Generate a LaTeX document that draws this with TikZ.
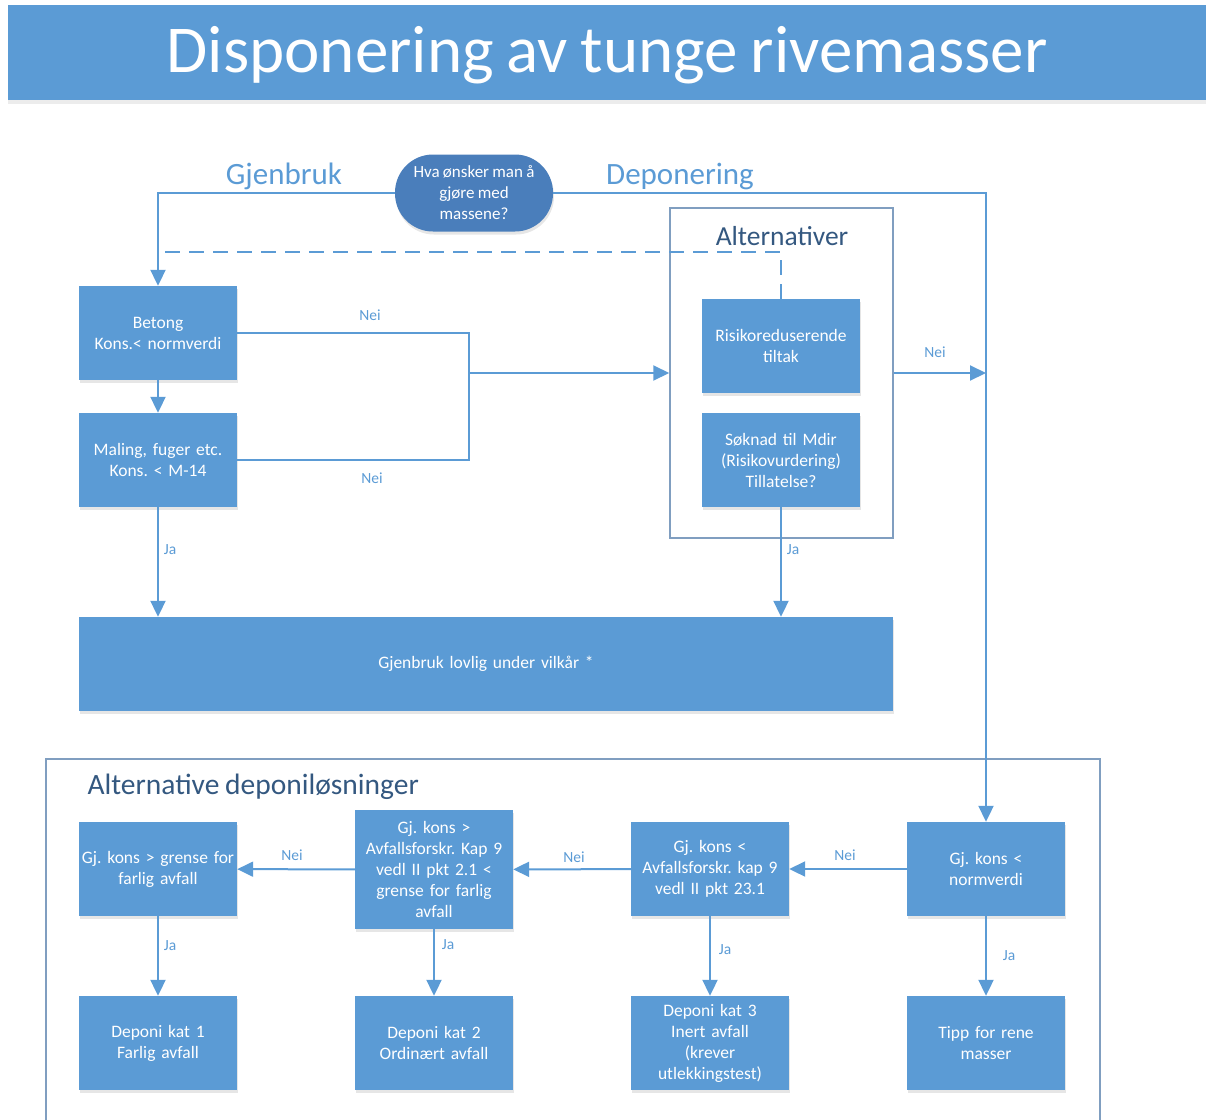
\documentclass[tikz,border=0pt]{standalone}
\usepackage{fontspec}
\setmainfont{Carlito}[WordSpace=0.85]
\frenchspacing
\usetikzlibrary{arrows.meta,shadows}
\definecolor{bl}{RGB}{91,155,213}
\definecolor{dbl}{RGB}{74,126,187}
\definecolor{frm}{RGB}{128,158,192}
\definecolor{ttl}{RGB}{52,88,128}
\begin{document}
\begin{tikzpicture}[x=1pt,y=-1pt,>={Triangle[length=16pt,width=15pt]},
	box/.style={fill=bl,text=white,minimum width=158pt,minimum height=94pt,text width=154pt,align=center,inner sep=0pt,font=\fontsize{17.5}{21}\selectfont,drop shadow={shadow xshift=1pt,shadow yshift=-3pt,opacity=0.2}},
	lbl/.style={text=bl,font=\fontsize{15.5}{18}\selectfont},
	hd/.style={font=\fontsize{31}{34}\selectfont},
	ln/.style={draw=bl,line width=2pt}]
		\useasboundingbox (0,0) rectangle (1206,1119);
		\fill[bl,drop shadow={shadow xshift=0pt,shadow yshift=-4pt,opacity=0.15}] (8,5) rectangle (1206,100);
		\node[text=white,font=\fontsize{67}{72}\selectfont] (title) at (607,55) {Disponering av tunge rivemasser};
		\node[draw=frm,line width=1.5pt,fill=white,minimum width=223pt,minimum height=330pt,inner sep=0pt] (alt) at (781.5,373) {};
		\node[text=ttl,font=\fontsize{27.5}{30}\selectfont] (altt) at (782,236) {Alternativer};
		\draw[frm,line width=1.5pt] (46,1125) -- (46,759) -- (1100,759) -- (1100,1125);
		\node[text=ttl,anchor=west,font=\fontsize{29.5}{32}\selectfont] (dept) at (84,787) {Alternative deponiløsninger};
		\node[fill=dbl,text=white,rounded corners=38pt,minimum width=158pt,minimum height=77pt,align=center,inner sep=0pt,font=\fontsize{17}{21}\selectfont,drop shadow={shadow xshift=1pt,shadow yshift=-3pt,opacity=0.2}] (q) at (474,193) {Hva ønsker man å\\gjøre med\\massene?};
		\node[hd,text=bl] (gj) at (284,176) {Gjenbruk};
		\node[hd,text=bl] (dep) at (680,176) {Deponering};
		\node[box] (bet) at (158,333) {Betong\\Kons.< normverdi};
		\node[box] (mal) at (158,460) {Maling, fuger etc.\\Kons. < M-14};
		\node[box] (risk) at (781,346) {Risikoreduserende\\tiltak};
		\node[box] (sok) at (781,460) {Søknad til Mdir\\(Risikovurdering)\\Tillatelse?};
		\node[box,minimum width=814pt,text width=800pt] (gjl) at (486,664) {Gjenbruk lovlig under vilkår *};
		\node[box] (a1) at (158,869) {Gj. kons > grense for\\farlig avfall};
		\node[box,minimum height=119pt] (a2) at (434,869.5) {Gj. kons >\\Avfallsforskr. Kap 9\\vedl II pkt 2.1 <\\grense for farlig\\avfall};
		\node[box] (a3) at (710,869) {Gj. kons <\\Avfallsforskr. kap 9\\vedl II pkt 23.1};
		\node[box] (a4) at (986,869) {Gj. kons <\\normverdi};
		\node[box] (b1) at (158,1043) {Deponi kat 1\\Farlig avfall};
		\node[box] (b2) at (434,1043) {Deponi kat 2\\Ordinært avfall};
		\node[box] (b3) at (710,1043) {Deponi kat 3\\Inert avfall\\(krever\\utlekkingstest)};
		\node[box] (b4) at (986,1043) {Tipp for rene\\masser};
		\coordinate (j) at (469,373);
		\coordinate (d) at (158,252);
		\draw[ln,->] (q.west) -| (bet.north);
		\draw[ln,->] (q.east) -| (a4.north);
		\draw[ln,dashed,dash pattern=on 15pt off 9pt] (risk.north) |- (d);
		\draw[ln,->] (bet) -- (mal);
		\draw[ln] (bet.east) -| (j);
		\draw[ln] (mal.east) -| (j);
		\draw[ln,->] (j) -- (alt.west);
		\draw[ln,->] (alt.east) -- (alt.east -| a4);
		\draw[ln,->] (mal) -- (mal |- gjl.north);
		\draw[ln,->] (sok) -- (sok |- gjl.north);
		\draw[ln,->] (a4) -- (a3);
		\draw[ln,->] (a3) -- (a2);
		\draw[ln,->] (a2) -- (a1);
		\draw[ln,->] (a1) -- (b1);
		\draw[ln,->] (a2) -- (b2);
		\draw[ln,->] (a3) -- (b3);
		\draw[ln,->] (a4) -- (b4);
		\node[lbl] (n1) at (370,315) {Nei};
		\node[lbl] (n2) at (372,478) {Nei};
		\node[lbl] (n3) at (935,352) {Nei};
		\node[lbl] (n4) at (845,855) {Nei};
		\node[lbl] (n5) at (574,857) {Nei};
		\node[lbl] (n6) at (292,855) {Nei};
		\node[lbl] (j1) at (170,550) {Ja};
		\node[lbl] (j2) at (793,550) {Ja};
		\node[lbl] (j3) at (170,946) {Ja};
		\node[lbl] (j4) at (448,945) {Ja};
		\node[lbl] (j5) at (725,950) {Ja};
		\node[lbl] (j6) at (1009,956) {Ja};
\end{tikzpicture}
\end{document}
